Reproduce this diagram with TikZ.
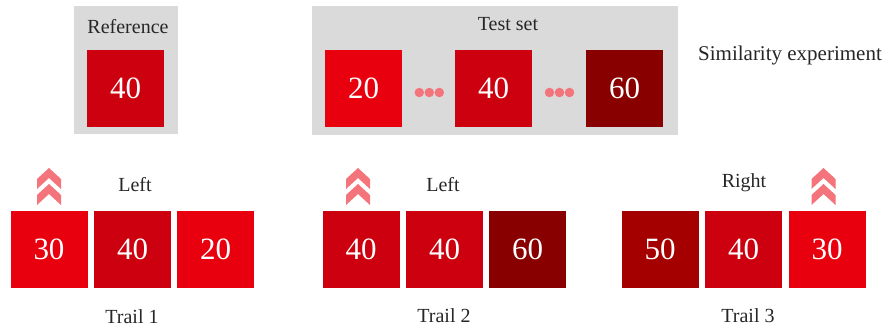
\documentclass[tikz,border=0pt]{standalone}
\usepackage{fontspec}
\setmainfont{Liberation Serif}
\definecolor{rA}{HTML}{E8000F}
\definecolor{rB}{HTML}{CC000E}
\definecolor{rC}{HTML}{A50000}
\definecolor{rD}{HTML}{880000}
\definecolor{pinkc}{HTML}{F4747B}
\definecolor{grayb}{HTML}{DADADA}
\begin{document}
\begin{tikzpicture}[x=1pt,y=-1pt,
  sq/.style={minimum size=77pt,inner sep=0pt,text=white,font=\fontsize{31}{32}\selectfont},
  lbl/.style={inner sep=0pt,text=black!85,font=\fontsize{20}{22}\selectfont},
  panel/.style={fill=grayb,draw=none},
  dotn/.style={circle,fill=pinkc,minimum size=9.5pt,inner sep=0pt},
  chev/.pic={
    \fill[pinkc] (0,0) -- (12,11) -- (12,21) -- (0,10) -- (-12,21) -- (-12,11) -- cycle;
    \fill[pinkc] (0,16) -- (12,27) -- (12,37) -- (0,26) -- (-12,37) -- (-12,27) -- cycle;
  }]
\useasboundingbox (0,0) rectangle (887,331);
% Reference panel
\fill[panel] (74,6) rectangle (178,134);
\node[lbl] (reft) at (128,27) {Reference};
\node[sq,fill=rB] (ref) at (125.5,88.5) {40};
% Test set panel
\fill[panel] (312,6) rectangle (678,135);
\node[lbl] (testt) at (508,24) {Test set};
\node[sq,fill=rA] (t1) at (363.5,88.5) {20};
\node[sq,fill=rB] (t2) at (493.5,88.5) {40};
\node[sq,fill=rD] (t3) at (624.5,88.5) {60};
\node[dotn] (d1) at (419.3,92.5) {};
\node[dotn] (d2) at (429.3,92.5) {};
\node[dotn] (d3) at (439.3,92.5) {};
\node[dotn] (d4) at (549.5,92.5) {};
\node[dotn] (d5) at (559.5,92.5) {};
\node[dotn] (d6) at (569.5,92.5) {};
\node[lbl,font=\fontsize{21}{23}\selectfont] (sim) at (790,55) {Similarity experiment};
% Trail 1
\pic at (49,168) {chev};
\node[lbl] (l1) at (135,185) {Left};
\node[sq,fill=rA] (a1) at (49,249.5) {30};
\node[sq,fill=rB] (a2) at (132.5,249.5) {40};
\node[sq,fill=rA] (a3) at (215.5,249.5) {20};
\node[lbl] (tr1) at (132,317) {Trail 1};
% Trail 2
\pic at (358,168) {chev};
\node[lbl] (l2) at (443,185) {Left};
\node[sq,fill=rB] (b1) at (361,249.5) {40};
\node[sq,fill=rB] (b2) at (444.5,249.5) {40};
\node[sq,fill=rD] (b3) at (527.5,249.5) {60};
\node[lbl] (tr2) at (444,316) {Trail 2};
% Trail 3
\pic at (823.5,168) {chev};
\node[lbl] (l3) at (744,183) {Right};
\node[sq,fill=rC] (c1) at (660,249.5) {50};
\node[sq,fill=rB] (c2) at (743.5,249.5) {40};
\node[sq,fill=rA] (c3) at (827,249.5) {30};
\node[lbl] (tr3) at (748,316) {Trail 3};
\end{tikzpicture}
\end{document}
